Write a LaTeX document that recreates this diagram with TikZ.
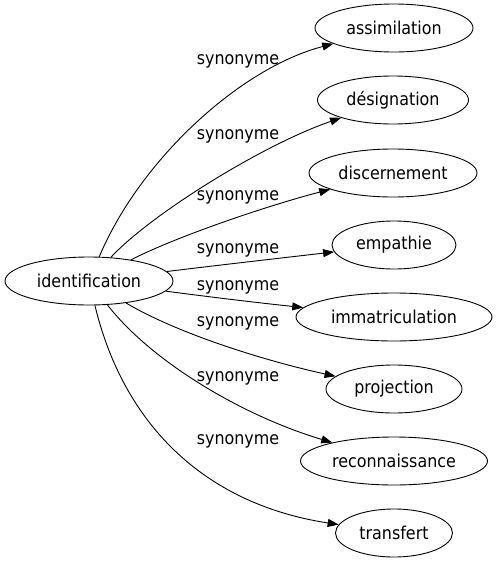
\documentclass[tikz,border=0pt]{standalone}
\usepackage{fontspec}
\setmainfont{DejaVu Sans Condensed}
\usetikzlibrary{shapes.geometric,arrows.meta}
\begin{document}
\begin{tikzpicture}[x=1pt,y=-1pt,
  word/.style={ellipse,draw,line width=0.9pt,inner sep=0pt,minimum height=48pt,font=\fontsize{17.7}{20}\selectfont},
  syn/.style={font=\fontsize{17.7}{20}\selectfont,inner sep=0pt},
  link/.style={line width=0.9pt,-{Triangle[length=11pt,width=8pt]}}]
\useasboundingbox (0,0) rectangle (496,563);
\node[word,minimum width=168pt] (id) at (89,281) {identification};
\node[word,minimum width=158pt] (a1) at (394,28) {assimilation};
\node[word,minimum width=151pt] (a2) at (393,100) {désignation};
\node[word,minimum width=168pt] (a3) at (393,173) {discernement};
\node[word,minimum width=124pt] (a4) at (394,245) {empathie};
\node[word,minimum width=196pt] (a5) at (394,317) {immatriculation};
\node[word,minimum width=136pt] (a6) at (394,389) {projection};
\node[word,minimum width=187pt] (a7) at (394,461) {reconnaissance};
\node[word,minimum width=117pt] (a8) at (394,533) {transfert};
\draw[link] (id) .. controls (140,160) and (240,68) .. (a1);
\draw[link] (id) .. controls (150,215) and (262,145) .. (a2);
\draw[link] (id) .. controls (180,235) and (270,205) .. (a3);
\draw[link] (id) .. controls (220,265) and (290,257) .. (a4);
\draw[link] (id) .. controls (210,297) and (260,303) .. (a5);
\draw[link] (id) .. controls (180,335) and (270,362) .. (a6);
\draw[link] (id) .. controls (150,360) and (240,415) .. (a7);
\draw[link] (id) .. controls (125,430) and (210,505) .. (a8);
\node[syn] (s1) at (238,61) {synonyme};
\node[syn] (s2) at (238,136) {synonyme};
\node[syn] (s3) at (238,197) {synonyme};
\node[syn] (s4) at (238,250) {synonyme};
\node[syn] (s5) at (238,287) {synonyme};
\node[syn] (s6) at (238,323) {synonyme};
\node[syn] (s7) at (238,378) {synonyme};
\node[syn] (s8) at (238,441) {synonyme};
\end{tikzpicture}
\end{document}
